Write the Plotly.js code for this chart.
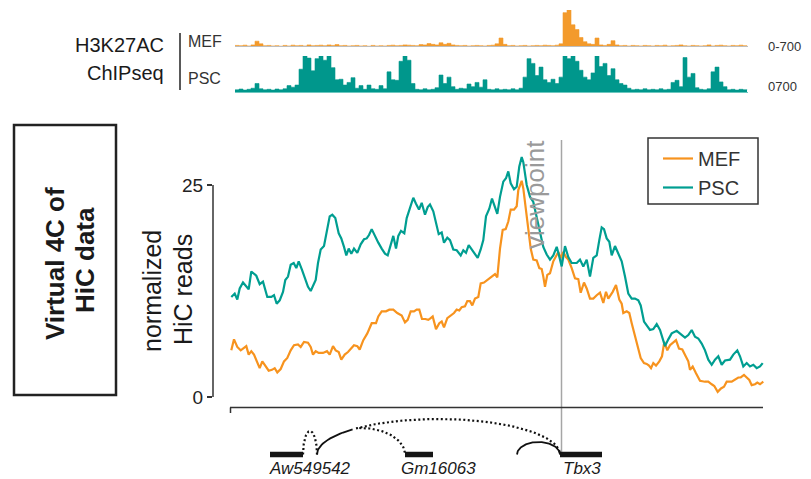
<!DOCTYPE html>
<html><head><meta charset="utf-8">
<script src="https://cdn.plot.ly/plotly-3.0.1.min.js"></script>
<style>html,body{margin:0;padding:0;background:#fff}#chart{width:811px;height:479px}</style>
</head><body><div id="chart"></div>
<script>
// ---- Virtual 4C (positions in kb, relative) ----
const mefX = [0.3,3,6.3,9.7,12,15.3,17.7,20.3,23,26.3,28.7,31.3,34.3,37.7,41,43.7,46.3,49.7,53,56.3,59.7,63,67,69.7,73,77,79.7,82,84.7,87.7,92,96,98.7,102,104.7,107.7,110.3,113.7,117,120.3,123,126.3,128.7,132.3,136.3,140.7,145,147.3,150.7,155,158.3,162.3,166.3,170.7,174,176.7,179.7,183,185.7,188.3,191,194.3,197.3,199.7,201.7,205,208.3,210.7,213,216.3,219.7,223,225.7,228.3,230.7,234,236.3,239,241.3,244,247.3,249.7,253,257.3,261.7,264,266.3,269,271.7,274.7,277.3,279.7,283,285.7,287.3,290.7,292.3,295,297.3,299.7,302.3,305.7,308.3,310.7,312.3,314,316.3,319,322.3,325,327.3,329.7,332.3,335,337.3,340.7,344,347.3,349.7,353,355.7,359,362.3,365.7,369,372.3,375,377.3,381.7,385,388.3,390.7,392.3,395.7,398.3,400.7,404,407.3,409.7,413,415.7,418,420,422.3,425,428.3,431,433.3,436.3,439,442.3,445,448,451.3,454.7,457.3,459,461.7,465,469,474,477.3,480.7,483.3,486.7,490,493,495.7,500.7,504,507.3,509.7,513,515.7,518.3,520.7,524,526.3,529,532.3];
const mefY = [5.5,6.8,5.9,5.5,5.7,6.0,5.0,5.4,5.0,4.0,3.4,4.2,3.7,3.1,3.2,3.4,2.9,3.3,4.2,4.6,5.5,6.1,6.2,5.9,6.5,6.4,5.9,5.0,5.4,5.2,5.2,5.4,5.0,6.0,5.5,5.3,4.4,5.0,5.3,5.7,6.1,6.0,5.6,6.7,7.5,8.7,8.7,9.5,10.1,10.1,10.3,10.3,9.9,9.6,8.8,9.1,10.1,10.1,10.3,10.3,9.2,9.2,9.1,9.3,9.5,8.0,8.7,8.9,8.2,9.3,9.6,9.9,10.3,10.2,10.6,10.7,11.3,11.3,10.8,11.6,11.8,13.4,13.5,13.9,14.3,14.5,14.1,17.5,19.7,19.8,20.7,22.1,22.1,22.5,24.4,25.5,24.6,22.1,19.4,17.5,16.2,16.1,15.2,15.1,14.2,13.0,14.4,14.6,16.0,16.7,17.1,16.4,17.1,16.5,16.2,15.2,14.0,13.9,12.3,13.5,12.8,11.6,11.6,12.0,12.3,11.1,12.4,11.6,12.4,13.2,11.5,11.0,9.9,10.1,9.9,8.7,7.1,5.5,4.6,4.0,3.9,3.7,3.4,4.0,3.7,4.2,4.8,6.5,5.5,6.1,6.5,6.7,5.7,5.6,4.8,4.2,3.2,3.6,2.8,1.9,1.8,1.8,1.5,1.3,0.6,1.0,1.2,1.8,1.8,2.0,2.3,2.3,2.6,2.3,2.0,1.4,1.5,1.7,1.5,1.8];
const pscX = [0.3,3.7,6.3,8.7,12,15.3,17.7,20.3,25.3,28.7,32,36.3,40.3,43,45.7,48.7,52,54.3,57,59.7,62.7,65.3,67.7,71,74.3,77,79.7,82,84.7,87,89.7,93,96.3,98.7,101.3,104.3,107.7,110.3,113,115.3,117.7,120.3,123,126.3,129.7,133,135.7,138,140.7,144,147.3,150.7,154,156.7,159.7,162.3,165,167.3,170,173.3,175.7,179,182.3,185,188,190.7,194,196.7,199,202.3,205,207.7,210.7,213,216.3,219,222.3,225.7,229.7,232.3,235,237.7,240.7,244,246.7,249.7,252.3,255,258.3,261,263,266.3,269,272.3,275,277.3,279.7,283,285.7,288.3,290.7,292.3,295.7,299,302.3,305.7,309,312.3,315.7,319,322.3,325.7,328,330.7,334,337.3,340.7,345.7,349,352.3,355.7,359,362.3,365.7,368.3,370.7,373,375.7,378.3,380.7,384,387.3,390.7,394,397.3,400.7,404,407.3,409.7,413,415.7,419,422.3,425.7,429,431.7,434,437.3,440.7,445.7,449,454,457.3,460.7,464,467.3,470.7,474,477.3,480.7,484,487.3,490.7,494,499,502.3,506.3,509,512.3,515.7,519,522.3,525.7,529,531.7];
const pscY = [11.8,12.2,11.5,12.8,13.5,13.1,12.7,14.8,14.3,13.3,13.6,11.8,11.8,12.0,11.0,11.4,12.4,13.8,14.2,15.6,15.8,15.2,16.0,15.0,14.0,13.0,12.5,13.2,13.8,15.8,17.4,17.8,19.7,21.3,21.5,21.1,19.3,18.7,17.7,16.7,17.5,16.9,17.5,17.0,18.0,18.6,18.7,19.1,19.8,18.9,18.2,17.5,16.9,16.7,17.9,19.0,17.5,19.0,19.6,19.3,21.1,22.4,23.5,22.8,22.1,22.9,21.5,22.4,22.7,21.9,20.5,19.2,19.4,18.2,18.8,18.5,17.4,17.3,16.7,17.3,17.0,17.9,17.4,16.8,16.4,17.4,18.5,21.3,22.2,23.4,22.8,21.6,23.6,25.4,25.8,26.6,25.2,24.5,24.8,27.2,28.3,27.7,25.0,23.6,23.0,21.3,19.5,17.7,16.8,16.2,16.7,17.7,16.7,15.4,17.8,16.5,15.8,15.8,16.2,15.4,16.2,14.2,16.4,16.7,18.5,20.0,19.8,18.7,18.3,16.7,17.8,16.9,16.0,14.2,12.2,11.6,11.6,11.4,10.8,8.9,8.5,7.9,8.0,8.6,7.9,6.9,6.0,6.8,7.5,7.8,7.5,7.0,7.3,7.9,7.1,6.9,6.3,5.5,4.4,3.8,4.4,4.8,3.8,4.3,4.4,5.0,5.5,4.8,3.6,4.0,3.6,3.8,3.4,3.6,4.0];
const yTicks = [0, 25];
const viewpointX = 330.5;

// ---- H3K27AC ChIPseq tracks (0-700), bins from 4 kb every 4 kb ----
const chipStart = 4, chipStep = 4;
const chipMEF = [30,25,35,20,40,110,60,25,30,20,25,15,30,20,35,25,30,20,40,25,30,35,25,40,30,45,25,30,20,25,30,20,25,15,30,20,25,20,30,35,25,30,40,35,30,25,45,40,65,50,40,80,50,70,40,30,25,30,20,25,30,25,20,30,35,60,170,50,25,30,20,25,30,20,25,30,25,35,30,25,35,60,650,700,420,330,180,100,60,50,170,40,30,50,120,40,25,30,20,30,25,20,30,25,20,30,25,35,20,25,30,40,25,20,30,25,20,25,40,20,30,35,25,20,30,25,35,25,30];
const chipPSC = [60,75,55,70,90,180,80,60,70,55,75,60,80,140,110,150,450,700,660,420,650,700,620,700,480,250,260,150,200,290,90,140,70,150,80,70,140,80,400,250,240,600,700,620,180,70,60,80,60,70,100,340,180,300,120,70,90,80,170,120,200,110,250,70,60,80,60,70,60,80,60,90,300,650,560,330,490,250,200,260,180,300,700,650,700,600,430,300,250,380,700,500,560,330,460,250,180,150,90,60,70,60,80,60,70,60,80,60,70,200,240,120,670,300,370,100,70,60,80,400,490,210,120,60,70,55,70,60,65];

// ---- gene annotation ----
const geneNames = ['Aw549542', 'Gm16063', 'Tbx3'];
const geneStart = [39, 174, 329];
const geneEnd = [72, 202, 371];
const geneLabelX = [79, 207, 351];
const arcStart = [72, 86, 86, 286];
const arcEnd = [86, 174, 329, 329];
const arcHeight = [23.5, 26.5, 35.5, 12.5];
const arcDrawFrom = [72, 128, 86, 286];
const arcSolidTo = [72, 128, 125, 329];

const ORANGE = '#F7931E', TEAL = '#009E91';
const FONT = 'Liberation Sans, Arial, Helvetica, sans-serif';
const W = 811, H = 479, ML = 213, MR = 46;
const px2paperX = p => (p - ML) / (W - ML - MR);
const px2paperY = p => (H - p) / H;
const geneBase = 24.5;

const chipX = chipMEF.map((_, i) => chipStart + i * chipStep);
const chipX2 = chipPSC.map((_, i) => chipStart + i * chipStep);

const traces = [];
traces.push({x: chipX, y: chipMEF, xaxis: 'x', yaxis: 'y2', type: 'scatter', mode: 'lines',
  line: {color: '#F39A2B', width: 0.6, shape: 'hv'}, fill: 'tozeroy', fillcolor: '#F39A2B', showlegend: false, hoverinfo: 'skip'});
traces.push({x: chipX2, y: chipPSC, xaxis: 'x', yaxis: 'y3', type: 'scatter', mode: 'lines',
  line: {color: '#00978C', width: 0.6, shape: 'hv'}, fill: 'tozeroy', fillcolor: '#00978C', showlegend: false, hoverinfo: 'skip'});
traces.push({x: mefX, y: mefY, name: 'MEF', type: 'scatter', mode: 'lines', line: {color: ORANGE, width: 2.2}});
traces.push({x: pscX, y: pscY, name: 'PSC', type: 'scatter', mode: 'lines', line: {color: TEAL, width: 2.2}});

// gene bars
const gx = [], gy = [];
geneNames.forEach((g, i) => { gx.push(geneStart[i], geneEnd[i], null); gy.push(geneBase, geneBase, null); });
traces.push({x: gx, y: gy, xaxis: 'x', yaxis: 'y4', mode: 'lines', line: {color: '#151515', width: 5.5}, showlegend: false, hoverinfo: 'skip'});

// arcs (half-ellipses between anchors)
arcStart.forEach((s, i) => {
  const e = arcEnd[i], h = arcHeight[i], c = (s + e) / 2, a = (e - s) / 2;
  const solid = {x: [], y: []}, dotted = {x: [], y: []};
  const n = 80;
  for (let k = 0; k <= n; k++) {
    const th = Math.PI - Math.PI * k / n;
    const xx = c + a * Math.cos(th), yy = geneBase + h * Math.sin(th);
    if (xx < arcDrawFrom[i] - 1e-9) continue;
    if (xx <= arcSolidTo[i] + 1e-9) { solid.x.push(xx); solid.y.push(yy); }
    if (xx >= arcSolidTo[i] - 1e-9) { dotted.x.push(xx); dotted.y.push(yy); }
  }
  if (solid.x.length > 1) traces.push({x: solid.x, y: solid.y, xaxis: 'x', yaxis: 'y4', mode: 'lines',
    line: {color: '#111', width: 1.8}, showlegend: false, hoverinfo: 'skip'});
  if (dotted.x.length > 1) traces.push({x: dotted.x, y: dotted.y, xaxis: 'x', yaxis: 'y4', mode: 'lines',
    line: {color: '#111', width: 2.2, dash: '2px,2.5px'}, showlegend: false, hoverinfo: 'skip'});
});

const ann = [];
function txt(text, x, y, size, opts) {
  ann.push(Object.assign({text, x, y, xref: 'paper', yref: 'paper', showarrow: false,
    font: {family: FONT, size, color: '#1a1a1a'}, xanchor: 'center', yanchor: 'middle'}, opts || {}));
}
txt('H3K27AC', px2paperX(166), px2paperY(45), 20, {xanchor: 'right'});
txt('ChIPseq', px2paperX(166), px2paperY(73), 20, {xanchor: 'right'});
txt('MEF', px2paperX(186), px2paperY(42), 16, {xanchor: 'left', font: {family: FONT, size: 16, color: '#333'}});
txt('PSC', px2paperX(186), px2paperY(78), 16, {xanchor: 'left', font: {family: FONT, size: 16, color: '#333'}});
txt('0-700', px2paperX(766), px2paperY(46), 13, {xanchor: 'left', font: {family: FONT, size: 13, color: '#333'}});
txt('0700', px2paperX(766), px2paperY(86), 13, {xanchor: 'left', font: {family: FONT, size: 13, color: '#333'}});
txt('<b>Virtual 4C of</b>', px2paperX(55), px2paperY(264), 26, {textangle: -90});
txt('<b>HiC data</b>', px2paperX(85), px2paperY(260), 26, {textangle: -90});
txt('normalized', px2paperX(152), px2paperY(291), 25, {textangle: -90});
txt('HiC reads', px2paperX(183), px2paperY(290), 25, {textangle: -90});
ann.push({text: 'viewpoint', x: 304, xref: 'x', y: px2paperY(195), yref: 'paper', textangle: -90, showarrow: false,
  font: {family: FONT, size: 26, color: '#9a9a9a'}});
geneNames.forEach((g, i) => ann.push({text: '<i>' + g + '</i>', x: geneLabelX[i], xref: 'x', y: px2paperY(478.5), yref: 'paper',
  yanchor: 'bottom', borderpad: 0, showarrow: false, font: {family: FONT, size: 17, color: '#1a1a1a'}}));

const shapes = [
  {type: 'line', xref: 'x', yref: 'y2', x0: chipX[0], x1: chipX[chipX.length - 1] + 1, y0: 0, y1: 0, line: {color: '#bdbdbd', width: 2}},
  {type: 'line', xref: 'x', yref: 'y3', x0: chipX2[0], x1: chipX2[chipX2.length - 1] + 1, y0: 0, y1: 0, line: {color: '#6cc7bf', width: 2}},
  {type: 'line', xref: 'paper', yref: 'paper', x0: px2paperX(180), x1: px2paperX(180), y0: px2paperY(33), y1: px2paperY(90), line: {color: '#222', width: 1.5}},
  {type: 'rect', xref: 'paper', yref: 'paper', x0: px2paperX(14), x1: px2paperX(116), y0: px2paperY(395), y1: px2paperY(125), line: {color: '#222', width: 2.5}},
  {type: 'line', xref: 'paper', yref: 'y', x0: 0, x1: 0, y0: 0, y1: 25, line: {color: '#333', width: 1.5}},
  {type: 'line', xref: 'x', yref: 'paper', x0: -1, x1: 532, y0: px2paperY(407.5), y1: px2paperY(407.5), line: {color: '#333', width: 1.5}},
  {type: 'line', xref: 'x', yref: 'paper', x0: -0.5, x1: -0.5, y0: px2paperY(407.5), y1: px2paperY(413), line: {color: '#333', width: 1.5}},
  {type: 'line', xref: 'x', yref: 'paper', x0: viewpointX, x1: viewpointX, y0: px2paperY(452), y1: px2paperY(140), line: {color: '#a6a6a6', width: 1.5}, layer: 'below'},
  // legend frame
  {type: 'rect', xref: 'paper', yref: 'paper', x0: px2paperX(648), x1: px2paperX(758), y0: px2paperY(204), y1: px2paperY(138), line: {color: '#333', width: 1.5}, fillcolor: 'rgba(0,0,0,0)'}
];

const layout = {
  width: W, height: H, margin: {l: ML, r: MR, t: 0, b: 0},
  paper_bgcolor: '#fff', plot_bgcolor: 'rgba(0,0,0,0)',
  font: {family: FONT, color: '#222'},
  showlegend: true,
  legend: {x: px2paperX(658), y: px2paperY(139), xanchor: 'left', yanchor: 'top', bgcolor: 'rgba(0,0,0,0)',
    borderwidth: 0, font: {family: FONT, size: 20, color: '#333'}},
  xaxis: {range: [-18, 534], domain: [0, 1], showline: false, showgrid: false, zeroline: false, ticks: '', showticklabels: false, fixedrange: true},
  yaxis: {domain: [px2paperY(408), px2paperY(140)], range: [-1.3, 30.31], tickvals: yTicks, ticktext: yTicks.map(String),
    ticks: 'outside', ticklen: 5, tickwidth: 1.5, tickcolor: '#333', tickfont: {family: FONT, size: 19, color: '#222'},
    showline: false, showgrid: false, zeroline: false, fixedrange: true},
  yaxis2: {domain: [px2paperY(47), px2paperY(10)], range: [0, 700], visible: false, anchor: 'x', fixedrange: true},
  yaxis3: {domain: [px2paperY(93), px2paperY(56)], range: [0, 700], visible: false, anchor: 'x', fixedrange: true},
  yaxis4: {domain: [0, px2paperY(410)], range: [0, 69], visible: false, anchor: 'x', fixedrange: true},
  annotations: ann, shapes: shapes
};
Plotly.newPlot('chart', traces, layout, {displayModeBar: false, staticPlot: true});
</script></body></html>
